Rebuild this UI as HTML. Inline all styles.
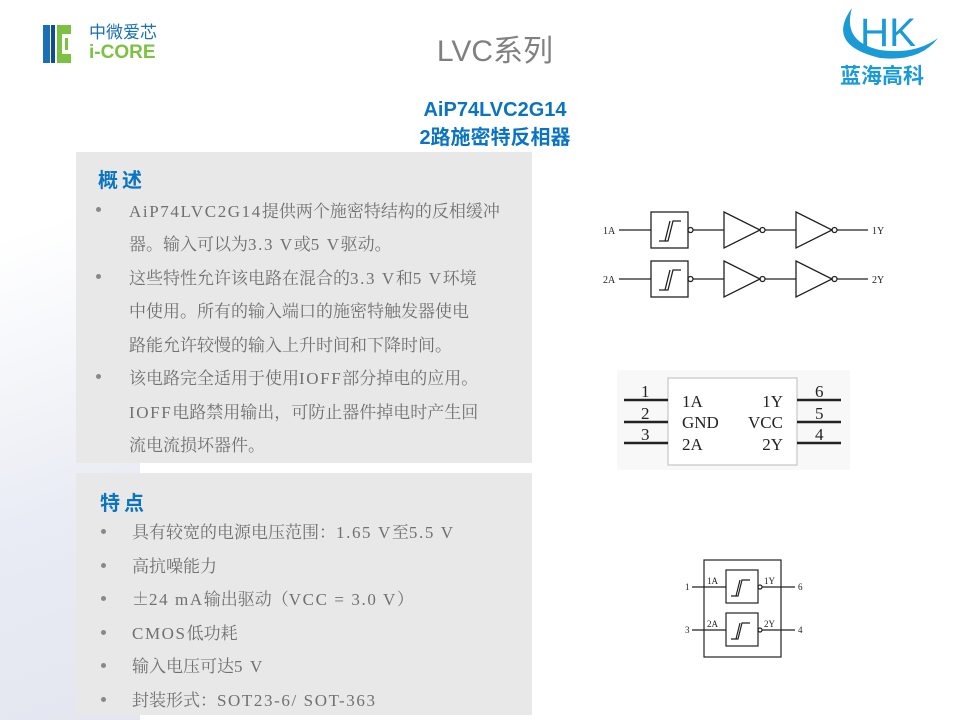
<!DOCTYPE html>
<html><head><meta charset="utf-8"><style>
body{margin:0;width:960px;height:720px;position:relative;overflow:hidden;background:#fff;font-family:"Liberation Sans","Noto Sans CJK SC",sans-serif}
.bg{position:absolute;left:0;top:180px;width:140px;height:540px;background:linear-gradient(160deg,rgba(255,255,255,0) 10%,rgba(215,220,235,.55) 60%,rgba(200,205,225,.5) 100%)}
.panel{position:absolute;left:76px;width:456px;background:#e8e8e8}
.t{position:absolute;font-family:"Noto Serif CJK SC","Liberation Serif",serif;font-size:17px;color:#707070;white-space:nowrap;line-height:20px}
.m{font-family:"Liberation Serif",serif;font-size:17px;letter-spacing:1.6px}
.h{position:absolute;font-family:"Liberation Sans","Noto Sans CJK SC",sans-serif;font-weight:bold;font-size:20px;color:#0b74c2;letter-spacing:4px}
.b{position:absolute;width:5px;height:5px;border-radius:50%;background:#888}
</style></head><body>
<div class="bg"></div>
<div style="position:absolute;left:43px;top:25px;width:7px;height:38px;background:#1a6fb5"></div>
<div style="position:absolute;left:51px;top:25px;width:4px;height:38px;background:#0f4f8f"></div>
<div style="position:absolute;left:57px;top:25px;width:14px;height:38px;background:#7dc142"></div>
<div style="position:absolute;left:62px;top:34px;width:9px;height:20px;background:#fff"></div>
<div style="position:absolute;left:65px;top:38px;width:3px;height:12px;background:#7dc142"></div>
<div style="position:absolute;left:89px;top:23px;font-size:17px;color:#1a6fb5;line-height:20px">中微爱芯</div>
<div style="position:absolute;left:89px;top:43px;font-size:19px;font-weight:bold;color:#7dc142;line-height:20px">i-CORE</div>
<svg style="position:absolute;left:830px;top:0" width="120" height="100">
<path d="M22 8 Q-5 45 50 58 Q90 62 108 38 Q85 55 50 50 Q12 42 22 8Z" fill="#1a9ad6"/>
<text x="30" y="46" font-family="Liberation Sans" font-size="40" fill="#1a9ad6" textLength="56" lengthAdjust="spacingAndGlyphs">HK</text>
</svg>
<div style="position:absolute;left:840px;top:65px;font-size:21px;font-weight:bold;color:#1a9ad6;line-height:24px">蓝海高科</div>
<div style="position:absolute;left:0;width:960px;top:34px;text-align:center;font-size:30px;color:#808080;line-height:36px;padding-left:30px;box-sizing:border-box">LVC系列</div>
<div style="position:absolute;left:0;width:990px;top:98px;text-align:center;font-size:20px;font-weight:bold;color:#0b74c2;line-height:24px">AiP74LVC2G14</div>
<div style="position:absolute;left:0;width:990px;top:126px;text-align:center;font-size:20px;font-weight:bold;color:#0b74c2;line-height:24px">2路施密特反相器</div>

<div class="panel" style="top:152px;height:311px"></div>
<div class="panel" style="top:473px;height:242px"></div>
<div class="h" style="left:98px;top:164px">概述</div>
<div class="b" style="left:96px;top:207px"></div><div class="t" style="left:129px;top:200px"><span class="m">AiP74LVC2G14</span>提供两个施密特结构的反相缓冲</div>
<div class="t" style="left:129px;top:233px">器。输入可以为<span class="m">3.3 V</span>或<span class="m">5 V</span>驱动。</div>
<div class="b" style="left:96px;top:274px"></div><div class="t" style="left:129px;top:267px">这些特性允许该电路在混合的<span class="m">3.3 V</span>和<span class="m">5 V</span>环境</div>
<div class="t" style="left:129px;top:300px">中使用。所有的输入端口的施密特触发器使电</div>
<div class="t" style="left:129px;top:334px">路能允许较慢的输入上升时间和下降时间。</div>
<div class="b" style="left:96px;top:374px"></div><div class="t" style="left:129px;top:367px">该电路完全适用于使用<span class="m">IOFF</span>部分掉电的应用。</div>
<div class="t" style="left:129px;top:401px"><span class="m">IOFF</span>电路禁用输出，可防止器件掉电时产生回</div>
<div class="t" style="left:129px;top:434px">流电流损坏器件。</div>

<div class="h" style="left:100px;top:487px">特点</div>
<div class="b" style="left:101px;top:529px"></div><div class="t" style="left:132px;top:521px">具有较宽的电源电压范围：<span class="m">1.65 V</span>至<span class="m">5.5 V</span></div>
<div class="b" style="left:101px;top:563px"></div><div class="t" style="left:132px;top:555px">高抗噪能力</div>
<div class="b" style="left:101px;top:596px"></div><div class="t" style="left:132px;top:588px">±<span class="m">24 mA</span>输出驱动（<span class="m">VCC = 3.0 V</span>）</div>
<div class="b" style="left:101px;top:630px"></div><div class="t" style="left:132px;top:622px"><span class="m">CMOS</span>低功耗</div>
<div class="b" style="left:101px;top:663px"></div><div class="t" style="left:132px;top:655px">输入电压可达<span class="m">5 V</span></div>
<div class="b" style="left:101px;top:697px"></div><div class="t" style="left:132px;top:689px">封装形式：<span class="m">SOT23-6/ SOT-363</span></div>

<svg style="position:absolute;left:0;top:0" width="960" height="720" font-family="Liberation Serif" fill="none" stroke="#222">
<g stroke-width="1.3">
<line x1="619" y1="230" x2="651" y2="230"/><rect x="651" y="212" width="37" height="36"/>
<path d="M659 241 H668 L673 221 H681 M665 241 L670 221"/>
<circle cx="690.5" cy="230" r="2.5"/><line x1="693" y1="230" x2="724" y2="230"/>
<path d="M724 212 L760 230 L724 248Z"/><circle cx="762.5" cy="230" r="2.5"/><line x1="765" y1="230" x2="796" y2="230"/>
<path d="M796 212 L832 230 L796 248Z"/><circle cx="834.5" cy="230" r="2.5"/><line x1="837" y1="230" x2="868" y2="230"/>
<line x1="619" y1="279" x2="651" y2="279"/><rect x="651" y="261" width="37" height="36"/>
<path d="M659 290 H668 L673 270 H681 M665 290 L670 270"/>
<circle cx="690.5" cy="279" r="2.5"/><line x1="693" y1="279" x2="724" y2="279"/>
<path d="M724 261 L760 279 L724 297Z"/><circle cx="762.5" cy="279" r="2.5"/><line x1="765" y1="279" x2="796" y2="279"/>
<path d="M796 261 L832 279 L796 297Z"/><circle cx="834.5" cy="279" r="2.5"/><line x1="837" y1="279" x2="868" y2="279"/>
</g>
<g fill="#222" stroke="none" font-size="10">
<text x="603" y="234">1A</text><text x="872" y="234">1Y</text>
<text x="603" y="283">2A</text><text x="872" y="283">2Y</text>
</g>
<rect x="617" y="370" width="233" height="100" fill="#f8f8f8" stroke="none"/>
<rect x="668" y="378" width="129" height="87" fill="#fff" stroke="#bbb" stroke-width="1"/>
<g stroke-width="2.5"><line x1="624" y1="400" x2="668" y2="400"/><line x1="624" y1="422" x2="668" y2="422"/><line x1="624" y1="443" x2="668" y2="443"/>
<line x1="797" y1="400" x2="841" y2="400"/><line x1="797" y1="422" x2="841" y2="422"/><line x1="797" y1="443" x2="841" y2="443"/></g>
<g fill="#222" stroke="none" font-size="17">
<text x="641" y="397">1</text><text x="641" y="419">2</text><text x="641" y="440">3</text>
<text x="815" y="397">6</text><text x="815" y="419">5</text><text x="815" y="440">4</text>
<text x="682" y="407">1A</text><text x="682" y="428">GND</text><text x="682" y="450">2A</text>
<text x="783" y="407" text-anchor="end">1Y</text><text x="783" y="428" text-anchor="end">VCC</text><text x="783" y="450" text-anchor="end">2Y</text>
</g>
<g stroke-width="1.2">
<rect x="704" y="560" width="77" height="97"/>
<rect x="726" y="570" width="32" height="33"/><rect x="726" y="613" width="32" height="33"/>
<path d="M731 596 H738 L742 580 H750 M736 596 L740 580"/>
<path d="M731 639 H738 L742 623 H750 M736 639 L740 623"/>
<circle cx="760" cy="587" r="2"/><circle cx="760" cy="630" r="2"/>
<line x1="692" y1="587" x2="726" y2="587"/><line x1="762" y1="587" x2="795" y2="587"/>
<line x1="692" y1="630" x2="726" y2="630"/><line x1="762" y1="630" x2="795" y2="630"/>
</g>
<g fill="#222" stroke="none" font-size="9">
<text x="685" y="590">1</text><text x="685" y="633">3</text><text x="798" y="590">6</text><text x="798" y="633">4</text>
<text x="707" y="584">1A</text><text x="707" y="627">2A</text><text x="764" y="584">1Y</text><text x="764" y="627">2Y</text>
</g>
</svg>
</body></html>
